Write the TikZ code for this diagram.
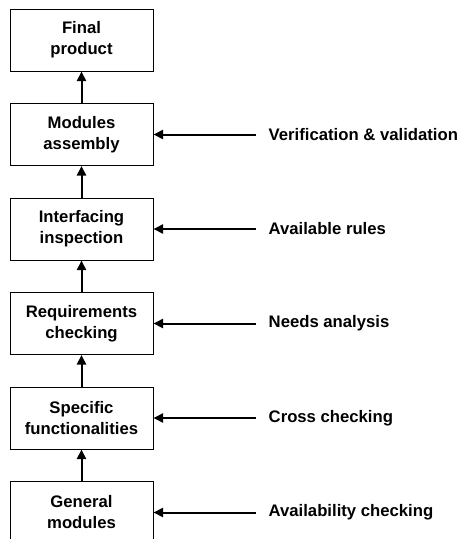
\documentclass[tikz,border=0pt]{standalone}
\usepackage{fontspec}
\setmainfont{Liberation Sans}
\usetikzlibrary{arrows.meta, positioning}

\begin{document}
\begin{tikzpicture}[x=1pt, y=1pt,
    node distance=31.5pt,
    every node/.style={font=\fontsize{16.7}{21}\selectfont\bfseries},
    stage/.style={draw, line width=1pt, minimum width=143pt, minimum height=62pt, align=center, inner sep=2pt},
    source/.style={inner xsep=13pt, inner ysep=0pt, anchor=west},
    flow/.style={line width=2pt, -{Triangle[length=9.5pt, width=9pt]}}]
    \useasboundingbox (0,0) rectangle (463,-539);

    \node[stage] (final) at (81.5,-40) {Final\\product};
    \node[stage, below=of final] (assembly) {Modules\\assembly};
    \node[stage, below=of assembly] (inspect) {Interfacing\\inspection};
    \node[stage, below=of inspect] (require) {Requirements\\checking};
    \node[stage, below=of require] (specific) {Specific\\functionalities};
    \node[stage, below=of specific] (general) {General\\modules};

    \node[source, right=102pt of assembly] (verif) {Verification \& validation};
    \node[source, right=102pt of inspect] (rules) {Available rules};
    \node[source, right=102pt of require] (needs) {Needs analysis};
    \node[source, right=102pt of specific] (cross) {Cross checking};
    \node[source, right=102pt of general] (avail) {Availability checking};

    \draw[flow] (general) -- (specific);
    \draw[flow] (specific) -- (require);
    \draw[flow] (require) -- (inspect);
    \draw[flow] (inspect) -- (assembly);
    \draw[flow] (assembly) -- (final);

    \draw[flow] (verif) -- (assembly);
    \draw[flow] (rules) -- (inspect);
    \draw[flow] (needs) -- (require);
    \draw[flow] (cross) -- (specific);
    \draw[flow] (avail) -- (general);
  \end{tikzpicture}
\end{document}
